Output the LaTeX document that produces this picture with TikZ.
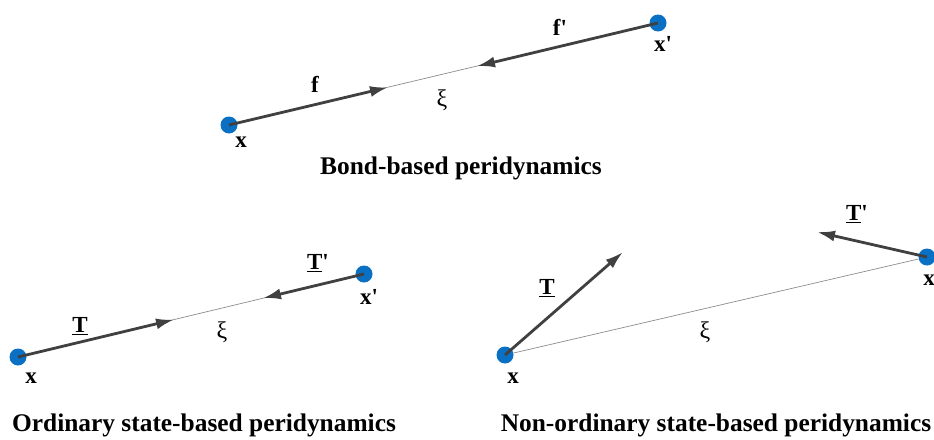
\documentclass[tikz,border=0pt]{standalone}
\usepackage{fontspec}
\setmainfont{Liberation Serif}
\newfontfamily\lbfont{Liberation Serif}
\usetikzlibrary{arrows.meta}
\definecolor{dotblue}{RGB}{10,112,196}
\definecolor{linegray}{RGB}{64,64,64}
\begin{document}
\begin{tikzpicture}[x=1pt,y=-1pt,
  pt/.style={circle,fill=dotblue,inner sep=0pt,minimum size=17pt},
  force/.style={draw=linegray,line width=2.8pt,-{Latex[length=18pt,width=11pt]}},
  bond/.style={draw=linegray!60,line width=0.7pt},
  lbl/.style={font=\lbfont\fontsize{23}{25}\selectfont\bfseries,inner sep=0pt},
  xi/.style={font=\fontsize{24}{26}\selectfont,inner sep=0pt},
  title/.style={font=\fontsize{25.4}{28}\selectfont\bfseries,inner sep=0pt}]
\useasboundingbox (0,0) rectangle (934,439);
% Bond-based
\node[pt] (a1) at (229,125) {};
\node[pt] (b1) at (658,23) {};
\coordinate (a1t) at (388,87.3);
\coordinate (b1t) at (477,66.2);
\draw[bond] (a1) -- (b1);
\draw[force] (a1.center) -- (a1t);
\draw[force] (b1.center) -- (b1t);
\node[lbl] (f1) at (315,84) {f};
\node[lbl] (f2) at (560,27) {f'};
\node[xi] (xi1) at (442,100) {ξ};
\node[lbl] (xa1) at (241,142) {x};
\node[lbl] (xb1) at (663,44) {x'};
\node[title] (t1) at (461,168) {Bond-based peridynamics};
% Ordinary state-based
\node[pt] (a2) at (18,357) {};
\node[pt] (b2) at (364,274) {};
\coordinate (a2t) at (174,319.6);
\coordinate (b2t) at (263,298.2);
\draw[bond] (a2) -- (b2);
\draw[force] (a2.center) -- (a2t);
\draw[force] (b2.center) -- (b2t);
\node[lbl] (T1) at (80,326) {\underline{T}};
\node[lbl] (T2) at (318,263) {\underline{T}'};
\node[xi] (xi2) at (222,332) {ξ};
\node[lbl] (xa2) at (31,378) {x};
\node[lbl] (xb2) at (369,297) {x'};
\node[title] (t2) at (204,425) {Ordinary state-based peridynamics};
% Non-ordinary state-based
\node[pt] (a3) at (505,355) {};
\node[pt] (b3) at (927,257) {};
\coordinate (a3t) at (623,252);
\coordinate (b3t) at (817,232);
\draw[bond] (a3) -- (b3);
\draw[force] (a3.center) -- (a3t);
\draw[force] (b3.center) -- (b3t);
\node[lbl] (T3) at (547,288) {\underline{T}};
\node[lbl] (T4) at (857,214) {\underline{T}'};
\node[xi] (xi3) at (705,332) {ξ};
\node[lbl] (xa3) at (513,378) {x};
\node[lbl] (xb3) at (929,280) {x};
\node[title] (t3) at (716,425) {Non-ordinary state-based peridynamics};
\end{tikzpicture}
\end{document}
